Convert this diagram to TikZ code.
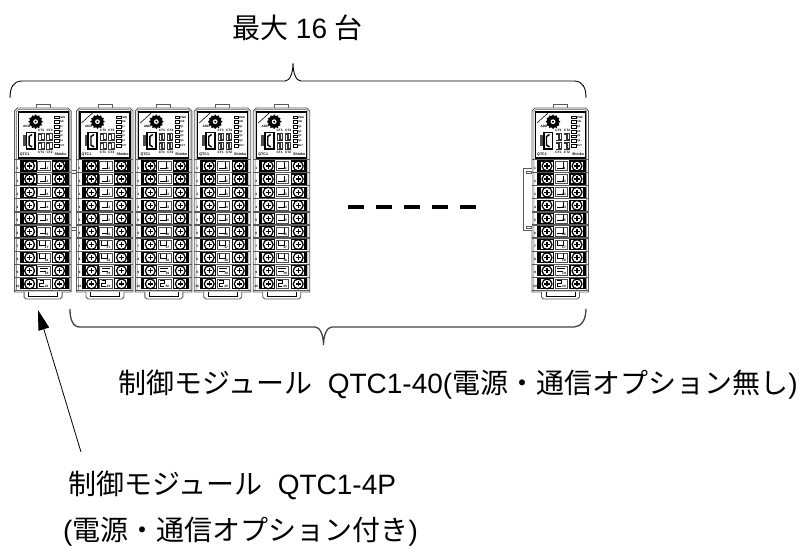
\documentclass[tikz,border=0pt]{standalone}
\usepackage{fontspec}
\setmainfont{Liberation Sans}
\newfontfamily\cjk{Noto Sans CJK JP}
\usetikzlibrary{arrows.meta}
\tikzset{
  bracepath/.style={draw=black,line width=0.9pt},
  bracelow/.style={draw=black!75,line width=1.3pt},
  body/.style={draw=black!65,line width=0.9pt,fill=white},
  tiny/.style={inner sep=0pt,font=\fontsize{3.2}{3.2}\selectfont\bfseries},
  ledtxt/.style={inner sep=0pt,anchor=west,font=\fontsize{2.6}{3}\selectfont\bfseries},
  lab/.style={inner sep=0pt,anchor=west,font=\fontsize{28}{30}\selectfont},
  sep/.style={draw=black!65,line width=1.3pt},
  dashbar/.style={fill=black,draw=none},
}
\newcommand{\jp}[1]{{\cjk #1}}
% one terminal row: #1 y offset, #2 name, #3 left no, #4 mid no, #5 mid type
\newcommand{\trow}[5]{%
  \begin{scope}[shift={(0,#1)}]
    \draw[black,line width=1.2pt] (6,1.5) rectangle (21.5,11.5);
    \draw[black,line width=1.2pt] (38,1.5) rectangle (53.5,11.5);
    \fill (6,1.5) rectangle (9,11.5);
    \fill (50.5,1.5) rectangle (53.5,11.5);
    \foreach \cx in {15,45}{
      \fill[black] (\cx,6.5) circle (5.6);
      \fill[white] (\cx,6.5) circle (4.1);
      \draw[black,line width=1.3pt] (\cx-2.6,6.5) -- (\cx+2.6,6.5) (\cx,3.9) -- (\cx,9.1);
    }
    \draw[black!70,line width=0.5pt] (23,2) rectangle (35.5,11);
    \ifcase#5\relax
      \draw[black,line width=0.9pt] (31,3) -- (31,8.5) -- (25,8.5);
    \or
      \draw[black,line width=0.9pt] (25,3) -- (25,7) -- (31,7) -- (31,3);
    \or
      \draw[black,line width=0.9pt] (25,4) -- (33,4) (25,7) -- (31,7);
    \or
      \draw[black,line width=0.9pt] (25,3) -- (29,3) -- (29,6) -- (25,6) -- (25,9) -- (29,9);
    \fi
    \node[tiny] (#2l) at (3,8.5) {#3};
    \node[tiny] (#2m) at (32,9) {#4};
  \end{scope}}
% module: #1 name, #2 x, #3 diagonal flag
\newcommand{\qtcmodule}[3]{%
  \begin{scope}[shift={(#2,108)}]
    \draw[body] (21.5,0) -- (21.5,-4) -- (35.5,-4) -- (35.5,0);
    \draw[body] (0,184) -- (0,3) -- (3,0) -- (53.5,0) -- (56.5,3) -- (56.5,184) -- cycle;
    \draw[black!65,line width=0.5pt] (1.8,182) -- (1.8,3.5) -- (3.8,1.6) -- (52.7,1.6) -- (54.7,3.5) -- (54.7,182);
    \draw[black,line width=1.1pt,fill=white] (3.5,4) rectangle (53.5,50);
    \ifnum#3=1 \draw[black,line width=0.6pt] (5,15) -- (16,5); \fi
    % dial
    \foreach \a in {0,30,...,330}{\fill[black] (21,13.7)++(\a:6.4) circle (0.9);}
    \fill[black] (21,13.7) circle (6.2);
    \fill[white] (21,13.7) circle (2.4);
    \fill[black] (21,13.7) circle (1.1);
    \node[tiny] (#1add) at (12,18.7) {ADD};
    % leds
    \foreach \y in {9.3,14,18.7,23.7,28.3,33,38}{
      \draw[black,line width=0.4pt] (39.6,\y-1.4) rectangle (44.2,\y+1.4);
    }
    \node[ledtxt] (#1a) at (44.6,9.3) {PWR};
    \node[ledtxt] (#1b) at (44.6,14) {O/E};
    \node[ledtxt] (#1c) at (44.6,18.7) {Q1};
    \node[ledtxt] (#1d) at (44.6,23.7) {Q2};
    \node[ledtxt] (#1e) at (44.6,28.3) {Q3};
    \node[ledtxt] (#1f) at (44.6,33) {Q4};
    \node[ledtxt] (#1g) at (44.6,38) {EVT};
    % usb
    \fill[black!70] (8,27.5) rectangle (11,38.5);
    \draw[black,line width=1.7pt,fill=white] (11.8,24.5) rectangle (20.6,41.3);
    \draw[black,line width=1.4pt] (17.5,26.5) -- (14.5,28.5) -- (14.5,37) -- (17.5,39);
    % switches
    \foreach \sx in {23.5,31.5}{\foreach \sy in {25,34}{
      \fill[black!80] (\sx,\sy) rectangle ++(6.5,8);
      \fill[white] (\sx+0.9,\sy+2) rectangle ++(1.6,5);
      \fill[white] (\sx+4,\sy+1) rectangle ++(1.6,5);
    }}
    \node[tiny] (#1ct) at (26.5,22.6) {CT3};
    \node[tiny] (#1cu) at (35,22.6) {CT4};
    \node[tiny] (#1cv) at (26.5,44.6) {CT1};
    \node[tiny] (#1cw) at (35,44.6) {CT2};
    \node[tiny,font=\fontsize{3.6}{4}\selectfont\bfseries] (#1q) at (10,46.2) {QTC1};
    \node[tiny,font=\fontsize{3.6}{4}\selectfont\bfseries] (#1s) at (46,46.6) {Shinko};
    % rows
    \foreach \i/\j/\k/\ty in {0/1/11/0,1/2/12/0,2/3/13/0,3/4/14/0,4/5/15/0,5/6/16/0,6/7/17/1,7/8/18/1,8/9/19/2,9/10/20/3}{
      \trow{51.5+13.1*\i}{#1r\j}{\j}{\k}{\ty}
    }
    \foreach \i in {0,...,10}{\draw[sep] (0,51.5+13.1*\i) -- (56.5,51.5+13.1*\i);}
    % bottom tab
    \draw[body] (9.5,184) -- (9.5,189) -- (11.5,191) -- (45.5,191) -- (47.5,189) -- (47.5,184);
    \draw[black,line width=0.5pt] (14,184) -- (14,188) -- (43,188) -- (43,184);
  \end{scope}}
\begin{document}
\begin{tikzpicture}[x=1pt,y=-1pt]
\useasboundingbox (0,0) rectangle (801,548);
\qtcmodule{ma}{14.6}{0}
\qtcmodule{mb}{76.5}{1}
\qtcmodule{mc}{135.3}{1}
\qtcmodule{md}{194.2}{1}
\qtcmodule{me}{253.2}{1}
\qtcmodule{mf}{532}{1}
% links between first modules
\draw[black!65,line width=0.5pt] (71.5,170.5) -- (76,170.5) (71.5,173) -- (76,173) (71.5,227.5) -- (76,227.5) (71.5,230) -- (76,230);
% side cover on last module
\draw[black!65,line width=0.7pt,fill=white] (532,168) -- (523.5,168) -- (523.5,230) -- (532,230);
\draw[black!65,line width=0.5pt] (526,171) rectangle (531,173.5) (526,226) rectangle (531,228.5);
% dash row
\foreach \dx in {347.5,375.5,403.5,431.5,459.5}{\fill[dashbar] (\dx,205) rectangle ++(16.5,3.8);}
% braces
\draw[bracepath] (10,98) .. controls (10,88) and (13,81) .. (22,81) -- (285,81) .. controls (290,81) and (293,73) .. (293,63) .. controls (293,73) and (296,81) .. (301,81) -- (574,81) .. controls (583,81) and (586,88) .. (586,98);
\draw[bracelow] (70,309) .. controls (70,320) and (73,327) .. (80,327) -- (315,327) .. controls (320,327) and (323.5,335) .. (323.5,345) .. controls (323.5,335) and (327,327) .. (332,327) -- (574,327) .. controls (581,327) and (586,320) .. (586,309);
% labels
\node[lab] (t1) at (232,28) {\jp{最大} 16 \jp{台}};
\node[lab] (t2) at (118,385) {\jp{制御モジュール}\ \ QTC1-40(\jp{電源・通信オプション無し})};
\node[lab] (t3) at (68,485) {\jp{制御モジュール}\ \ QTC1-4P};
\node[lab] (t4) at (63,532) {(\jp{電源・通信オプション付き})};
% arrow
\coordinate (as) at (81,452);
\coordinate (ae) at (38,310);
\draw[line width=0.8pt,-{Triangle[length=20pt,width=11pt]}] (as) -- (ae);
\end{tikzpicture}
\end{document}
